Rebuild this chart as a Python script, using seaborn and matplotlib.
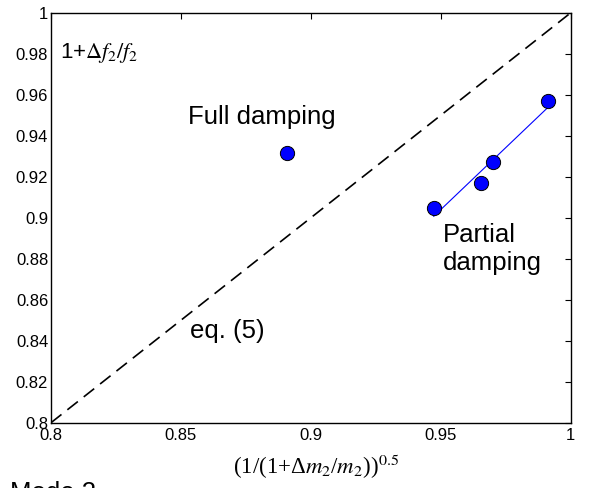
import numpy as np
import pandas as pd
import matplotlib
matplotlib.use("Agg")
import matplotlib.pyplot as plt
import seaborn as sns

# Data
full_x = [0.891]
full_y = [0.9317]
partial_x = [0.9473, 0.9657, 0.9703, 0.9915]
partial_y = [0.9046, 0.9171, 0.9275, 0.9571]
eq5_x = [0.8, 1.0]
eq5_y = [0.8, 1.0]
xticks = [0.8, 0.85, 0.9, 0.95, 1.0]
xtick_labels = ["0.8", "0.85", "0.9", "0.95", "1"]
yticks = [0.8, 0.82, 0.84, 0.86, 0.88, 0.9, 0.92, 0.94, 0.96, 0.98, 1.0]
ytick_labels = ["0.8", "0.82", "0.84", "0.86", "0.88", "0.9", "0.92", "0.94", "0.96", "0.98", "1"]

sns.set_theme(style="white")
plt.rcParams["font.family"] = ["Liberation Sans", "DejaVu Sans"]
plt.rcParams["mathtext.fontset"] = "stix"
plt.rcParams["text.color"] = "black"

fig = plt.figure(figsize=(5.89, 4.88), dpi=100)
ax = fig.add_axes([0.0866, 0.1338, 0.9686 - 0.0866, 0.9734 - 0.1338])

df_eq = pd.DataFrame({"x": eq5_x, "y": eq5_y})
sns.lineplot(data=df_eq, x="x", y="y", ax=ax, color="black", lw=1.2,
             dashes=False, estimator=None)
ax.lines[-1].set_dashes((8, 4.5))

df_p = pd.DataFrame({"x": partial_x, "y": partial_y})
sns.regplot(data=df_p, x="x", y="y", ax=ax, scatter=False, ci=None,
            truncate=True, line_kws=dict(color="#0000ff", lw=0.8))

df_all = pd.DataFrame({"x": full_x + partial_x, "y": full_y + partial_y})
sns.scatterplot(data=df_all, x="x", y="y", ax=ax, s=105, color="#0000ff",
                edgecolor="black", linewidth=0.7, zorder=5)

ax.set_xlim(0.8, 1.0)
ax.set_ylim(0.8, 1.0)
ax.set_xticks(xticks)
ax.set_xticklabels(xtick_labels)
ax.set_yticks(yticks)
ax.set_yticklabels(ytick_labels)
ax.tick_params(direction="in", length=4.5, width=0.8, labelsize=12,
               top=True, right=True, labelcolor="black", color="black")
ax.tick_params(axis="x", pad=4)
ax.tick_params(axis="y", pad=2)
for sp in ax.spines.values():
    sp.set_color("black")
    sp.set_linewidth(1.0)
ax.set_xlabel("")
ax.set_ylabel("")

ax.text(0.80346, 0.978, r"1+$\Delta f_2/f_2$", fontsize=16, va="baseline", ha="left")
ax.text(0.8527, 0.9457, "Full damping", fontsize=18.5, va="baseline", ha="left")
ax.text(0.9509, 0.8882, "Partial", fontsize=18.5, va="baseline", ha="left")
ax.text(0.9509, 0.8745, "damping", fontsize=18.5, va="baseline", ha="left")
ax.text(0.8535, 0.8415, "eq. (5)", fontsize=18.5, va="baseline", ha="left")

fig.text(316.5 / 589, (488 - 474) / 488, r"(1/(1+Δ$m_2$/$m_2$))$^{0.5}$",
         fontsize=16.5, ha="center", va="baseline",
         family=["Liberation Serif", "DejaVu Serif"])
fig.text(10 / 589, (488 - 499.6) / 488, "Mode 2", fontsize=18.5, ha="left", va="baseline")

fig.savefig("out.png", dpi=100)
